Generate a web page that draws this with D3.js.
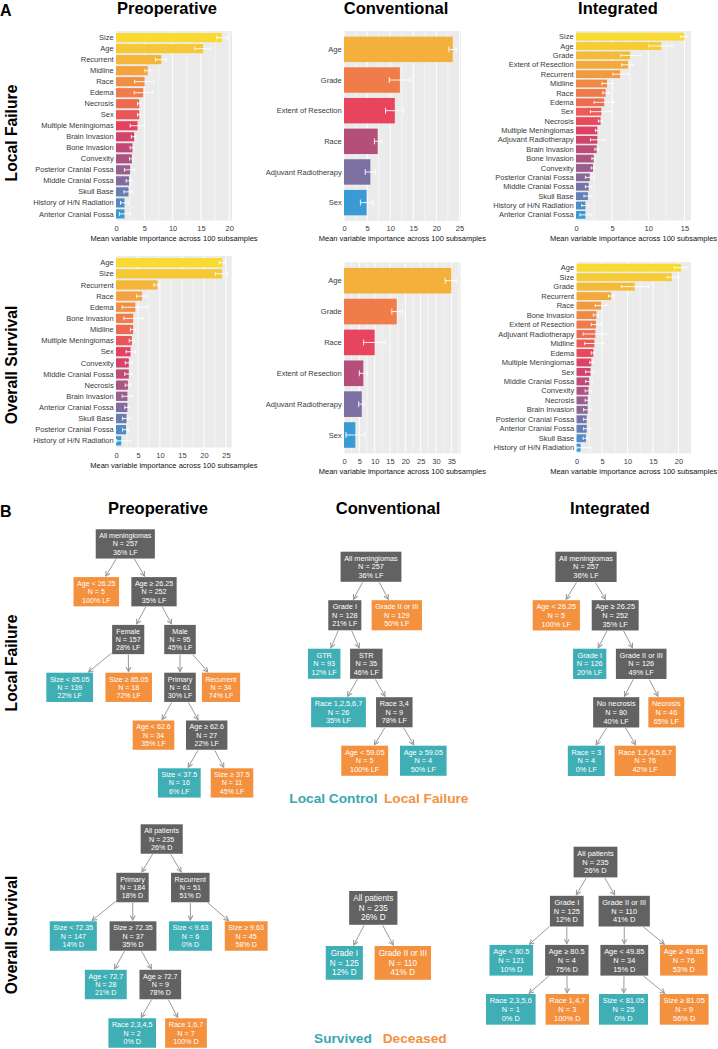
<!DOCTYPE html>
<html><head><meta charset="utf-8">
<script src="https://cdnjs.cloudflare.com/ajax/libs/d3/7.8.5/d3.min.js"></script>
<style>body{margin:0;background:#fff}svg{display:block;font-family:"Liberation Sans",Arial,Helvetica,sans-serif}</style>
</head><body><svg id="c" width="718" height="1049"></svg>
<script>
// ---------------- Panel A data ----------------
const preLF_vars = ["Size","Age","Recurrent","Midline","Race","Edema","Necrosis","Sex","Multiple Meningiomas","Brain Invasion","Bone Invasion","Convexity","Posterior Cranial Fossa","Middle Cranial Fossa","Skull Base","History of H/N Radiation","Anterior Cranial Fossa"];
const preLF_mean = [18.7,15.4,8.0,5.6,5.05,4.8,4.1,4.1,3.8,3.2,2.9,2.8,2.5,2.3,2.2,1.5,1.5];
const preLF_lo = [17.8,13.9,7.0,5.1,3.3,3.2,3.8,3.8,2.5,2.7,2.5,2.4,1.5,1.8,1.4,0.8,0.6];
const preLF_hi = [19.7,16.7,8.9,6.1,6.7,6.5,4.4,4.3,5.0,3.5,3.2,3.1,3.3,2.8,2.9,2.2,2.6];

const convLF_vars = ["Age","Grade","Extent of Resection","Race","Adjuvant Radiotherapy","Sex"];
const convLF_mean = [23.55,12.1,11.0,7.3,5.7,4.9];
const convLF_lo = [22.7,9.8,9.0,6.6,4.6,3.55];
const convLF_hi = [24.3,14.3,12.9,8.2,6.8,6.3];

const intLF_vars = ["Size","Age","Grade","Extent of Resection","Recurrent","Midline","Race","Edema","Sex","Necrosis","Multiple Meningiomas","Adjuvant Radiotherapy","Brain Invasion","Bone Invasion","Convexity","Posterior Cranial Fossa","Middle Cranial Fossa","Skull Base","History of H/N Radiation","Anterior Cranial Fossa"];
const intLF_mean = [15.0,11.8,7.5,7.2,6.1,4.3,4.1,3.9,3.5,3.4,2.95,2.95,2.85,2.45,2.35,1.9,1.75,1.65,1.3,1.3];
const intLF_lo = [14.5,10.1,6.2,6.3,5.1,3.6,3.7,2.5,2.0,3.1,2.7,2.0,2.6,2.2,2.1,1.3,1.3,1.1,0.8,0.55];
const intLF_hi = [15.3,13.3,8.9,8.0,7.3,5.1,4.6,5.2,5.0,3.6,3.2,4.0,3.1,2.7,2.6,2.6,2.1,2.2,1.8,2.1];

const preOS_vars = ["Age","Size","Recurrent","Race","Edema","Bone Invasion","Midline","Multiple Meningiomas","Sex","Convexity","Middle Cranial Fossa","Necrosis","Brain Invasion","Anterior Cranial Fossa","Skull Base","Posterior Cranial Fossa","History of H/N Radiation"];
const preOS_mean = [24.2,24.1,9.4,5.9,4.4,3.9,3.9,3.6,3.3,2.9,2.9,2.7,2.6,2.6,2.4,2.3,1.2];
const preOS_lo = [23.5,22.6,8.6,4.7,1.4,1.8,3.3,3.0,2.3,2.1,2.0,2.1,1.4,2.0,1.5,1.5,0.15];
const preOS_hi = [24.8,25.3,9.85,7.0,7.1,6.1,4.4,4.2,4.4,3.6,3.6,3.3,3.6,3.0,3.2,2.9,3.3];

const convOS_vars = ["Age","Grade","Race","Extent of Resection","Adjuvant Radiotherapy","Sex"];
const convOS_mean = [35.0,17.2,10.0,6.3,5.8,3.7];
const convOS_lo = [33.0,15.6,6.4,5.0,4.8,0.65];
const convOS_hi = [36.6,19.0,13.5,7.6,6.5,6.8];

const intOS_vars = ["Age","Size","Grade","Recurrent","Race","Bone Invasion","Extent of Resection","Adjuvant Radiotherapy","Midline","Edema","Multiple Meningiomas","Sex","Middle Cranial Fossa","Convexity","Necrosis","Brain Invasion","Posterior Cranial Fossa","Anterior Cranial Fossa","Skull Base","History of H/N Radiation"];
const intOS_mean = [20.5,18.7,11.4,6.8,4.85,3.9,3.8,3.7,3.5,3.3,2.9,2.75,2.5,2.35,2.2,2.2,2.0,2.0,1.85,0.8];
const intOS_lo = [19.2,17.8,8.8,6.3,3.7,3.3,2.9,1.3,1.6,2.9,2.6,1.8,1.8,1.7,1.7,1.4,1.4,1.4,1.3,0.1];
const intOS_hi = [21.6,19.9,14.1,7.25,5.9,4.3,4.7,5.9,5.4,3.5,3.2,3.4,3.1,3.0,2.7,3.0,2.2,2.7,2.2,2.9];

const ticksPreLF = [0,5,10,15,20];
const ticksConvLF = [0,5,10,15,20,25];
const ticksIntLF = [0,5,10,15];
const ticksPreOS = [0,5,10,15,20,25];
const ticksConvOS = [0,5,10,15,20,25,30,35];
const ticksIntOS = [0,5,10,15,20];

const axisTitle = "Mean variable importance across 100 subsamples";
const colTitles = ["Preoperative","Conventional","Integrated"];
const rowTitles = ["Local Failure","Overall Survival"];

// ---------------- Panel B data (id, parent, split label, N, percent, class) ----------------
const preLF_nodes = [
 [0,-1,"All meningiomas",257,36,"g"],[1,0,"Age < 26.25",5,100,"o"],[2,0,"Age ≥ 26.25",252,35,"g"],
 [3,2,"Female",157,28,"g"],[4,2,"Male",95,45,"g"],[5,3,"Size < 85.05",139,22,"t"],[6,3,"Size ≥ 85.05",18,72,"o"],
 [7,4,"Primary",61,30,"g"],[8,4,"Recurrent",34,74,"o"],[9,7,"Age < 62.6",34,35,"o"],[10,7,"Age ≥ 62.6",27,22,"g"],
 [11,10,"Size < 37.5",16,6,"t"],[12,10,"Size ≥ 37.5",11,45,"o"]];
const convLF_nodes = [
 [0,-1,"All meningiomas",257,36,"g"],[1,0,"Grade I",128,21,"g"],[2,0,"Grade II or III",129,50,"o"],
 [3,1,"GTR",93,12,"t"],[4,1,"STR",35,46,"g"],[5,4,"Race 1,2,5,6,7",26,35,"t"],[6,4,"Race 3,4",9,78,"g"],
 [7,6,"Age < 59.05",5,100,"o"],[8,6,"Age ≥ 59.05",4,50,"t"]];
const intLF_nodes = [
 [0,-1,"All meningiomas",257,36,"g"],[1,0,"Age < 26.25",5,100,"o"],[2,0,"Age ≥ 26.25",252,35,"g"],
 [3,2,"Grade I",126,20,"t"],[4,2,"Grade II or III",126,49,"g"],[5,4,"No necrosis",80,40,"g"],[6,4,"Necrosis",46,65,"o"],
 [7,5,"Race = 3",4,0,"t"],[8,5,"Race 1,2,4,5,6,7",76,42,"o"]];
const preOS_nodes = [
 [0,-1,"All patients",235,26,"g"],[1,0,"Primary",184,18,"g"],[2,0,"Recurrent",51,51,"g"],
 [3,1,"Size < 72.35",147,14,"t"],[4,1,"Size ≥ 72.35",37,35,"g"],[5,2,"Size < 9.63",6,0,"t"],[6,2,"Size ≥ 9.63",45,58,"o"],
 [7,4,"Age < 72.7",28,21,"t"],[8,4,"Age ≥ 72.7",9,78,"g"],[9,8,"Race 2,3,4,5",2,0,"t"],[10,8,"Race 1,6,7",7,100,"o"]];
const convOS_nodes = [
 [0,-1,"All patients",235,26,"g"],[1,0,"Grade I",125,12,"t"],[2,0,"Grade II or III",110,41,"o"]];
const intOS_nodes = [
 [0,-1,"All patients",235,26,"g"],[1,0,"Grade I",125,12,"g"],[2,0,"Grade II or III",110,41,"g"],
 [3,1,"Age < 80.5",121,10,"t"],[4,1,"Age ≥ 80.5",4,75,"g"],[5,2,"Age < 49.85",34,15,"g"],[6,2,"Age ≥ 49.85",76,53,"o"],
 [7,4,"Race 2,3,5,6",1,0,"t"],[8,4,"Race 1,4,7",3,100,"o"],[9,5,"Size < 81.05",25,0,"t"],[10,5,"Size ≥ 81.05",9,56,"o"]];

// horizontal placement of tree nodes (layout)
const preLF_x = [125.3,96.3,154,128.2,180,69.7,128.7,180,221,153.5,206.7,179.3,232];
const convLF_x = [371,344.8,396.8,324.2,366.3,338.5,394.3,364.7,423.3];
const intLF_x = [586,556.3,615.2,589.7,641.2,616.2,666.3,586.3,645.2];
const preOS_x = [161.7,132.5,190.3,73.3,133,190.5,246.2,105.8,160.3,132.2,186];
const convOS_x = [373.3,344.3,402.8];
const intOS_x = [595.5,566.8,624.2,511.3,566.8,624.3,683.8,510.8,567.3,623.5,684.2];

// ---------------- drawing ----------------
const svg = d3.select("#c");
const stops = ["#F8DA31","#F5C236","#F2A83C","#F08E42","#EE764B","#EC5C55","#E6405F","#CE446E","#B24F7C","#96608F","#7A70A3","#5B85BA","#3A9AD6"];
const palette = d3.scaleLinear().domain(stops.map((_, i) => i / (stops.length - 1))).range(stops).interpolate(d3.interpolateRgb);
const TXT = "#3a3a3a";

function barPanel(c) {
  const g = svg.append("g");
  const xMax = d3.max(c.hi) * 1.04;
  const x = d3.scaleLinear().domain([0, xMax]).range([c.x0, c.x1]);
  const y = d3.scaleBand().domain(c.vars).range([c.y0, c.y1]).paddingInner(0.17).paddingOuter(0.185);
  g.append("rect").attr("x", c.x0).attr("y", c.y0).attr("width", c.x1 - c.x0).attr("height", c.y1 - c.y0).attr("fill", "#EBEBEB");
  const step = c.ticks[1] - c.ticks[0];
  g.selectAll(".mn").data(d3.range(step / 2, xMax, step)).join("line")
    .attr("x1", d => x(d)).attr("x2", d => x(d)).attr("y1", c.y0).attr("y2", c.y1)
    .attr("stroke", "#fff").attr("stroke-width", 0.5);
  g.selectAll(".mj").data(c.ticks).join("line")
    .attr("x1", d => x(d)).attr("x2", d => x(d)).attr("y1", c.y0).attr("y2", c.y1)
    .attr("stroke", "#fff").attr("stroke-width", 1);
  const n = c.vars.length;
  const rows = c.vars.map((v, i) => ({ v, m: c.mean[i], lo: c.lo[i], hi: c.hi[i], i }));
  g.selectAll(".bar").data(rows).join("rect")
    .attr("x", x(0)).attr("y", d => y(d.v)).attr("width", d => x(d.m) - x(0)).attr("height", y.bandwidth())
    .attr("fill", d => palette(c.tStart + (1 - c.tStart) * d.i / (n - 1)));
  const cap = Math.min(y.bandwidth() * 0.42, 6);
  const eb = g.selectAll(".eb").data(rows).join("g").attr("stroke", "#fff").attr("stroke-width", 0.9);
  eb.append("line").attr("x1", d => x(d.lo)).attr("x2", d => x(d.hi))
    .attr("y1", d => y(d.v) + y.bandwidth() / 2).attr("y2", d => y(d.v) + y.bandwidth() / 2);
  eb.append("line").attr("x1", d => x(d.lo)).attr("x2", d => x(d.lo))
    .attr("y1", d => y(d.v) + y.bandwidth() / 2 - cap / 2).attr("y2", d => y(d.v) + y.bandwidth() / 2 + cap / 2);
  eb.append("line").attr("x1", d => x(d.hi)).attr("x2", d => x(d.hi))
    .attr("y1", d => y(d.v) + y.bandwidth() / 2 - cap / 2).attr("y2", d => y(d.v) + y.bandwidth() / 2 + cap / 2);
  g.selectAll(".lab").data(rows).join("text")
    .attr("x", c.x0 - 2.3).attr("y", d => y(d.v) + y.bandwidth() / 2).attr("dy", "0.35em")
    .attr("text-anchor", "end").attr("font-size", 7.5).attr("fill", TXT).text(d => d.v);
  const ax = g.append("g").attr("transform", `translate(0,${c.y1})`)
    .call(d3.axisBottom(x).tickValues(c.ticks).tickSize(0).tickPadding(c.tickBase - c.y1 - 5.3).tickFormat(d3.format("d")));
  ax.select(".domain").remove();
  ax.selectAll("text").attr("font-size", 7.5).attr("fill", TXT).attr("font-family", null);
  g.append("text").attr("x", (c.x0 + c.x1) / 2).attr("y", c.tickBase + 10).attr("text-anchor", "middle")
    .attr("font-size", 7.5).attr("fill", "#111").text(axisTitle);
}

barPanel({vars: preLF_vars, mean: preLF_mean, lo: preLF_lo, hi: preLF_hi, ticks: ticksPreLF, x0: 116, x1: 232, y0: 31, y1: 220.5, tStart: 0, tickBase: 231.3});
barPanel({vars: convLF_vars, mean: convLF_mean, lo: convLF_lo, hi: convLF_hi, ticks: ticksConvLF, x0: 344, x1: 460.7, y0: 31, y1: 221, tStart: 0.14, tickBase: 231.3});
barPanel({vars: intLF_vars, mean: intLF_mean, lo: intLF_lo, hi: intLF_hi, ticks: ticksIntLF, x0: 576, x1: 691, y0: 31, y1: 220.5, tStart: 0, tickBase: 231.3});
barPanel({vars: preOS_vars, mean: preOS_mean, lo: preOS_lo, hi: preOS_hi, ticks: ticksPreOS, x0: 116, x1: 231.7, y0: 256, y1: 447.5, tStart: 0, tickBase: 457.7});
barPanel({vars: convOS_vars, mean: convOS_mean, lo: convOS_lo, hi: convOS_hi, ticks: ticksConvOS, x0: 344, x1: 460.7, y0: 262.2, y1: 453.5, tStart: 0.14, tickBase: 463.7});
barPanel({vars: intOS_vars, mean: intOS_mean, lo: intOS_lo, hi: intOS_hi, ticks: ticksIntOS, x0: 576.5, x1: 691, y0: 262, y1: 453.4, tStart: 0, tickBase: 463.7});

// ---------------- titles ----------------
function bold(x, y, s, size, anchor, fill) {
  return svg.append("text").attr("x", x).attr("y", y).attr("font-weight", "bold").attr("font-size", size)
    .attr("text-anchor", anchor || "middle").attr("fill", fill || "#000").text(s);
}
bold(0, 16, "A", 16, "start");
bold(0, 516.5, "B", 16, "start");
[167, 396, 618].forEach((cx, i) => bold(cx, 13.5, colTitles[i], 16.5));
[158, 388, 610].forEach((cx, i) => bold(cx, 513.5, colTitles[i], 16.5));
function rowLabel(cy, s) {
  svg.append("text").attr("transform", `translate(17.2,${cy}) rotate(-90)`).attr("text-anchor", "middle")
    .attr("font-weight", "bold").attr("font-size", 15.7).attr("fill", "#000").text(s);
}
rowLabel(133, rowTitles[0]); rowLabel(365, rowTitles[1]);
rowLabel(663, rowTitles[0]); rowLabel(935, rowTitles[1]);

// ---------------- trees ----------------
const boxFill = { g: "#626262", o: "#F4913F", t: "#3FAEB5" };
function drawTree(nodes, xs, c) {
  const root = d3.stratify().id(d => d[0]).parentId(d => (d[1] < 0 ? null : d[1]))(nodes);
  const fs = c.fs, h = fs * 4.12, lh = fs * 1.17;
  const yS = d3.scaleLinear().domain([0, 1]).range([c.top + h / 2, c.top + h / 2 + c.gap]);
  const xS = d3.scaleLinear().domain([0, 1]).range([0, 1]);
  const linkG = svg.append("g"), nodeG = svg.append("g");
  const all = root.descendants();
  all.forEach(nd => {
    nd.px = xS(xs[nd.data[0]]); nd.py = yS(nd.depth);
    const g = nodeG.append("g");
    const r = g.append("rect");
    const lines = [nd.data[2], "N = " + nd.data[3], nd.data[4] + "% " + c.suffix];
    let w = 0;
    lines.forEach((s, k) => {
      const t = g.append("text").attr("x", nd.px).attr("y", nd.py + (k - 1) * lh).attr("dy", "0.35em")
        .attr("text-anchor", "middle").attr("font-size", fs).attr("fill", "#fff").text(s);
      w = Math.max(w, t.node().getComputedTextLength());
    });
    nd.w = w + fs; nd.h = h;
    r.attr("x", nd.px - nd.w / 2).attr("y", nd.py - h / 2).attr("width", nd.w).attr("height", h)
      .attr("fill", boxFill[nd.data[5]]);
  });
  root.links().forEach(({ source: p, target: ch }) => {
    const dx = ch.px - p.px, dy = ch.py - p.py, L = Math.hypot(dx, dy);
    const ux = dx / L, uy = dy / L;
    const t1 = Math.min(dx ? (p.w / 2) / Math.abs(dx) : Infinity, (p.h / 2) / Math.abs(dy));
    const t2 = Math.min(dx ? (ch.w / 2) / Math.abs(dx) : Infinity, (ch.h / 2) / Math.abs(dy));
    const sx = p.px + dx * t1 + ux * 0.6, sy = p.py + dy * t1 + uy * 0.6;
    const ex = ch.px - dx * t2 - ux * 1.2, ey = ch.py - dy * t2 - uy * 1.2;
    linkG.append("line").attr("x1", sx).attr("y1", sy).attr("x2", ex).attr("y2", ey)
      .attr("stroke", "#9a9a9a").attr("stroke-width", 1);
    const al = 4.5, aw = 2.4, nx = -uy, ny = ux;
    linkG.append("path")
      .attr("d", `M${ex - ux * al + nx * aw},${ey - uy * al + ny * aw}L${ex},${ey}L${ex - ux * al - nx * aw},${ey - uy * al - ny * aw}`)
      .attr("fill", "none").attr("stroke", "#9a9a9a").attr("stroke-width", 1.1);
  });
}
drawTree(preLF_nodes, preLF_x, { fs: 7.1, top: 529.3, gap: 47.8, suffix: "LF" });
drawTree(convLF_nodes, convLF_x, { fs: 7.3, top: 551.7, gap: 48.5, suffix: "LF" });
drawTree(intLF_nodes, intLF_x, { fs: 7.35, top: 551.7, gap: 48.5, suffix: "LF" });
drawTree(preOS_nodes, preOS_x, { fs: 7.15, top: 824.3, gap: 48.5, suffix: "D" });
drawTree(convOS_nodes, convOS_x, { fs: 8.2, top: 891, gap: 55, suffix: "D" });
drawTree(intOS_nodes, intOS_x, { fs: 7.45, top: 846.7, gap: 49.1, suffix: "D" });

// ---------------- legends ----------------
bold(289.3, 803, "Local Control", 13.7, "start", "#37A8B0");
bold(384, 803, "Local Failure", 13.7, "start", "#F3913F");
bold(314, 1043, "Survived", 13.7, "start", "#37A8B0");
bold(382.7, 1043, "Deceased", 13.7, "start", "#F3913F");
</script></body></html>
